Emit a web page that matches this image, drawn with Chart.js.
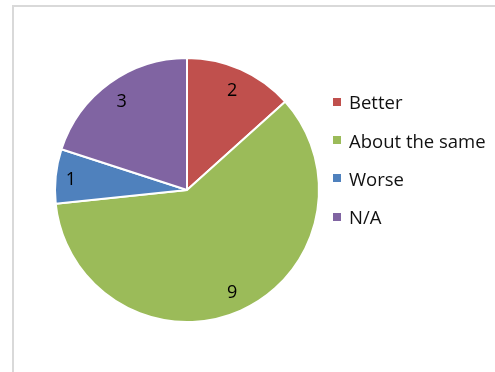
<!DOCTYPE html>
<html>
<head>
<meta charset="utf-8">
<script src="https://cdn.jsdelivr.net/npm/chart.js@4"></script>
<style>
  html, body { margin: 0; padding: 0; background: #fff; overflow: hidden; }
  #frame {
    position: absolute; left: 12px; top: 5px; width: 600px; height: 500px;
    border-left: 2px solid #d9d9d9; border-top: 2px solid #d9d9d9;
  }
  #wrap { position: absolute; left: 0; top: 0; width: 495px; height: 372px; }
  #legend {
    position: absolute; left: 333px; top: 82.5px; margin: 0; padding: 0; list-style: none;
    font-family: "Open Sans", sans-serif; font-size: 18.5px; color: #111;
  }
  #legend li { display: flex; align-items: center; height: 38.4px; white-space: nowrap; }
  #legend .box { width: 8px; height: 8px; margin-right: 8px; flex: none; }
</style>
</head>
<body>
<div id="frame"></div>
<div id="wrap"><canvas id="pieChart" width="495" height="372"></canvas></div>
<ul id="legend"></ul>
<script>
  // Antworten pro Kategorie
  let categories = ['Better', 'About the same', 'Worse', 'N/A'];
  let counts = [2, 9, 1, 3];
  let sliceColors = ['#C0504D', '#9BBB59', '#4F81BD', '#8064A2'];

  // Werte innen am Rand der Segmente schreiben
  let valueLabels = {
    id: 'valueLabels',
    afterDatasetsDraw(chart) {
      let ctx = chart.ctx;
      let meta = chart.getDatasetMeta(0);
      ctx.save();
      ctx.font = '18px "Open Sans", sans-serif';
      ctx.fillStyle = '#000';
      ctx.textAlign = 'center';
      ctx.textBaseline = 'middle';
      meta.data.forEach((arc, i) => {
        let { x, y, startAngle, endAngle, outerRadius } = arc.getProps(['x', 'y', 'startAngle', 'endAngle', 'outerRadius'], true);
        let mid = (startAngle + endAngle) / 2;
        let text = String(chart.data.datasets[0].data[i]);
        let w = ctx.measureText(text).width;
        let cos = Math.cos(mid), sin = Math.sin(mid);
        let r = outerRadius - 9 - (Math.abs(cos) * w / 2 + Math.abs(sin) * 11);
        ctx.fillText(text, x + cos * r, y + sin * r + 2);
      });
      ctx.restore();
    }
  };

  let config = {
    type: 'pie',
    data: {
      labels: categories,
      datasets: [{ data: counts, backgroundColor: sliceColors, borderColor: '#ffffff', borderWidth: 2 }]
    },
    options: {
      responsive: false,
      animation: false,
      layout: { padding: { left: 54, right: 175, top: 57, bottom: 49 } },
      plugins: {
        legend: { display: false },
        tooltip: { enabled: false }
      }
    },
    plugins: [valueLabels]
  };

  let ctx = document.getElementById('pieChart').getContext('2d');
  let pieChart = new Chart(ctx, config);

  // Legende als HTML aus den Legenden-Eintraegen des Diagramms
  let list = document.getElementById('legend');
  pieChart.options.plugins.legend.labels.generateLabels(pieChart).forEach(item => {
    let li = document.createElement('li');
    let box = document.createElement('span');
    box.className = 'box';
    box.style.background = item.fillStyle;
    li.appendChild(box);
    li.appendChild(document.createTextNode(item.text));
    list.appendChild(li);
  });
</script>
</body>
</html>
